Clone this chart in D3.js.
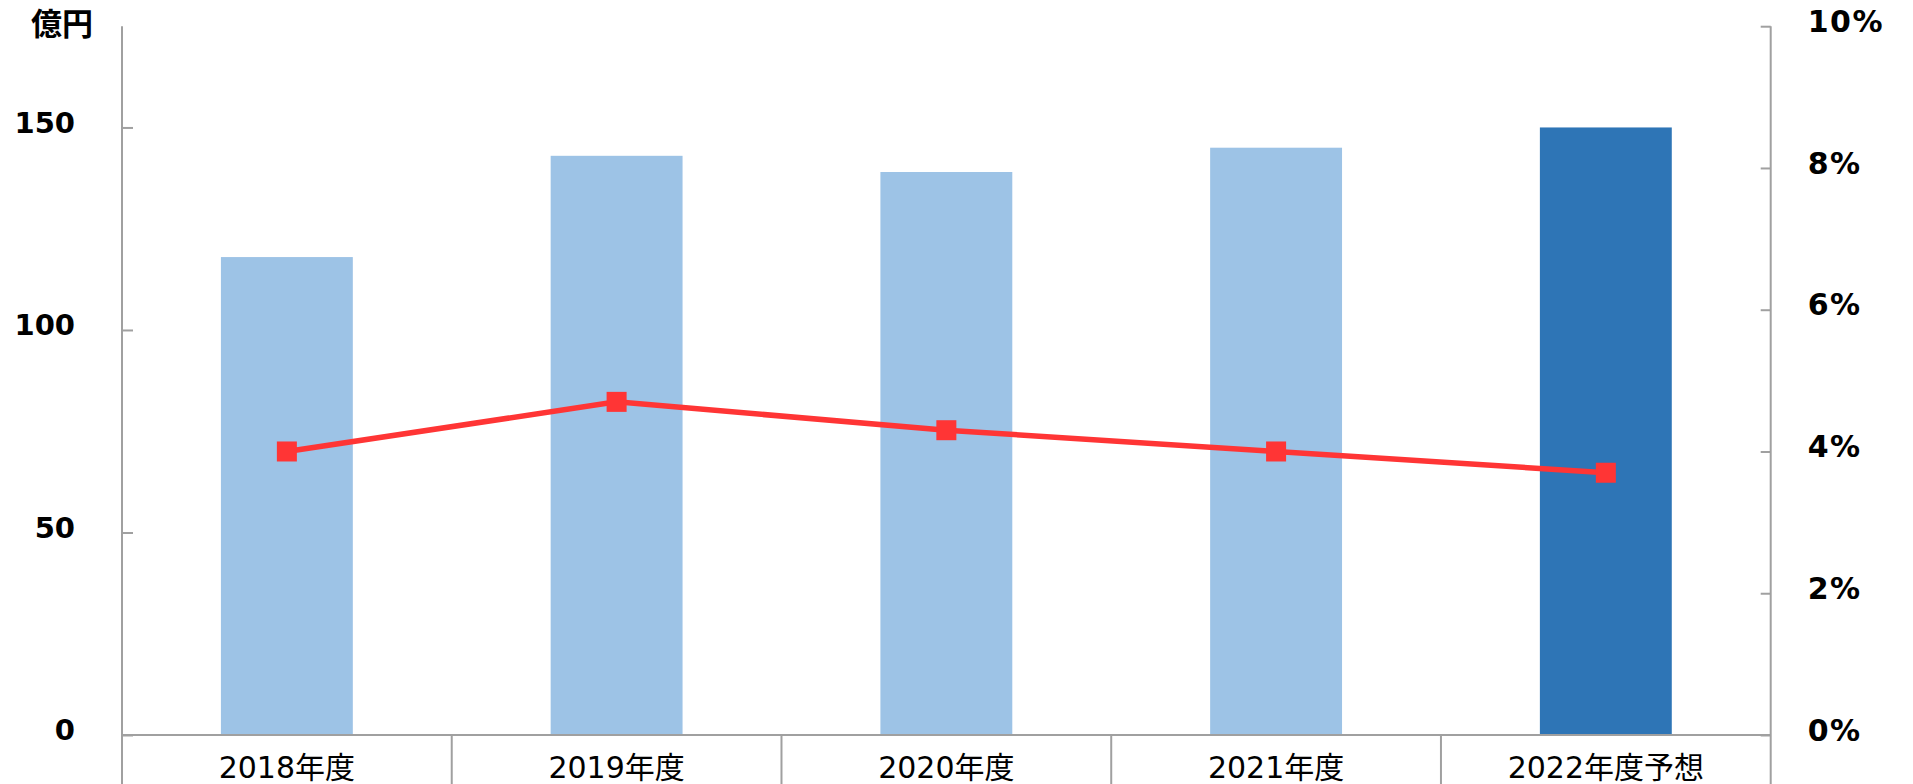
<!DOCTYPE html>
<html lang="ja">
<head>
<meta charset="utf-8">
<script src="https://cdn.jsdelivr.net/npm/d3@7"></script>
<style>
  html, body { margin: 0; padding: 0; background: #fff; }
  svg { display: block; }
</style>
</head>
<body>
<script>
// 売上高（億円）と利益率（%）の推移
const categories = ["2018年度", "2019年度", "2020年度", "2021年度", "2022年度予想"];
const sales = [118, 143, 139, 145, 150];          // 億円
const margin = [0.040, 0.047, 0.043, 0.040, 0.037]; // 率
const forecast = [false, false, false, false, true];
const leftTicks = [0, 50, 100, 150];
const rightTicks = [0, 0.02, 0.04, 0.06, 0.08, 0.10];

const W = 1913, H = 784;
const plot = { left: 122, right: 1770.7, top: 26.2, bottom: 735 };
const latin = "'DejaVu Sans', 'Noto Sans CJK JP', sans-serif";

const svg = d3.select("body").append("svg")
  .attr("width", W).attr("height", H);

const x = d3.scaleBand()
  .domain(categories)
  .range([plot.left, plot.right])
  .paddingInner(0.6)
  .paddingOuter(0.3);

const yL = d3.scaleLinear().domain([0, 175]).range([plot.bottom, plot.top]);
const yR = d3.scaleLinear().domain([0, 0.10]).range([plot.bottom, plot.top]);

const axisColor = "#a0a0a0";

// 棒グラフ
svg.append("g").selectAll("rect")
  .data(categories)
  .join("rect")
  .attr("x", d => x(d))
  .attr("width", x.bandwidth())
  .attr("y", (d, i) => yL(sales[i]))
  .attr("height", (d, i) => yL(0) - yL(sales[i]))
  .attr("fill", (d, i) => forecast[i] ? "#2e75b6" : "#9dc3e6");

// 左軸（億円）
const gL = svg.append("g")
  .attr("transform", `translate(${plot.left},0)`)
  .call(d3.axisLeft(yL).tickValues(leftTicks).tickSizeInner(-11).tickSizeOuter(0).tickPadding(47));
gL.select(".domain").remove();
gL.selectAll(".tick line").attr("stroke", axisColor).attr("stroke-width", 2);
gL.selectAll(".tick text")
  .attr("dy", "0.17em")
  .attr("fill", "#000")
  .style("font-family", latin)
  .style("font-weight", "bold")
  .style("font-size", "29px");

// 右軸（%）
const gR = svg.append("g")
  .attr("transform", `translate(${plot.right},0)`)
  .call(d3.axisRight(yR).tickValues(rightTicks).tickFormat(d3.format(".0%")).tickSizeInner(-10).tickSizeOuter(0).tickPadding(37));
gR.select(".domain").remove();
gR.selectAll(".tick line").attr("stroke", axisColor).attr("stroke-width", 2);
gR.selectAll(".tick text")
  .attr("dy", "0.17em")
  .attr("fill", "#000")
  .style("font-family", latin)
  .style("font-weight", "bold")
  .style("font-size", "30px")
  .style("letter-spacing", "1.5px");

// 軸線と区切り線
const lines = svg.append("g").attr("stroke", axisColor).attr("stroke-width", 2).attr("fill", "none");
lines.append("line")
  .attr("x1", plot.left).attr("x2", plot.right)
  .attr("y1", plot.bottom).attr("y2", plot.bottom);
lines.append("line")
  .attr("x1", plot.left).attr("x2", plot.left)
  .attr("y1", plot.top).attr("y2", H);
lines.append("line")
  .attr("x1", plot.right).attr("x2", plot.right)
  .attr("y1", plot.top).attr("y2", H);
const step = x.step();
const bounds = categories.slice(1).map((d, i) => x(d) + x.bandwidth() / 2 - step / 2);
lines.selectAll(".div").data(bounds).join("line")
  .attr("class", "div")
  .attr("x1", d => d).attr("x2", d => d)
  .attr("y1", plot.bottom).attr("y2", H);

// カテゴリラベル
svg.append("g").selectAll("text")
  .data(categories)
  .join("text")
  .attr("x", d => x(d) + x.bandwidth() / 2)
  .attr("y", 778)
  .attr("text-anchor", "middle")
  .style("font-family", latin)
  .style("font-size", "30px")
  .attr("fill", "#000")
  .text(d => d);

// 利益率の折れ線
const cx = (d, i) => x(categories[i]) + x.bandwidth() / 2;
const line = d3.line().x((d, i) => cx(d, i)).y(d => yR(d));
svg.append("path")
  .datum(margin)
  .attr("d", line)
  .attr("fill", "none")
  .attr("stroke", "#ff3535")
  .attr("stroke-width", 5.5);
const ms = 20;
svg.append("g").selectAll("rect")
  .data(margin)
  .join("rect")
  .attr("x", (d, i) => cx(d, i) - ms / 2)
  .attr("y", d => yR(d) - ms / 2)
  .attr("width", ms).attr("height", ms)
  .attr("fill", "#ff3535");

// 単位
svg.append("text")
  .attr("x", 62).attr("y", 35)
  .attr("text-anchor", "middle")
  .style("font-family", "'Noto Sans CJK JP', sans-serif")
  .style("font-weight", "bold")
  .style("font-size", "31px")
  .attr("fill", "#000")
  .text("億円");
</script>
</body>
</html>
